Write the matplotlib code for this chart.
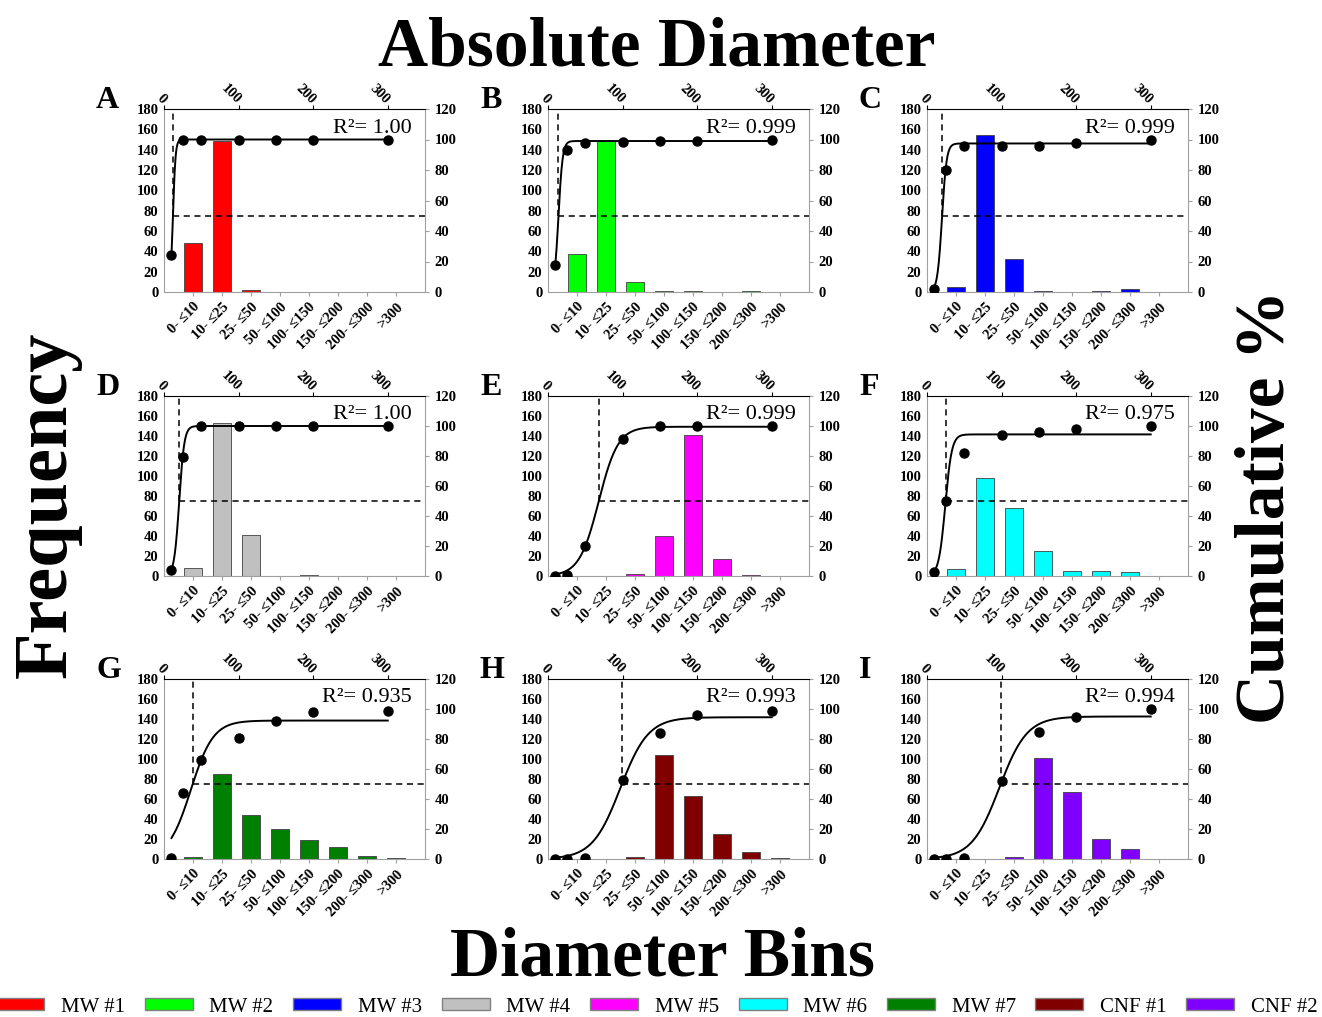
import matplotlib
matplotlib.use("Agg")
import matplotlib.pyplot as plt
from matplotlib.patches import Patch
import numpy as np

plt.rcParams["font.family"] = ["Liberation Serif", "DejaVu Serif"]

# bins shared by every panel
categories = ["0- ≤10", "10- ≤25", "25- ≤50", "50- ≤100", "100- ≤150", "150- ≤200", "200- ≤300", ">300"]
bin_upper = [10, 25, 50, 100, 150, 200, 300]  # x of the cumulative points

letters = ["A", "B", "C", "D", "E", "F", "G", "H", "I"]
names = ["MW #1", "MW #2", "MW #3", "MW #4", "MW #5", "MW #6", "MW #7", "CNF #1", "CNF #2"]
colors = ["#FF0000", "#00FF00", "#0000FF", "#C0C0C0", "#FF00FF", "#00FFFF", "#008000", "#800000", "#8000FF"]
r2_text = ["1.00", "0.999", "0.999", "1.00", "0.999", "0.975", "0.935", "0.993", "0.994"]

# frequency per bin
freq_a = [48, 149, 2, 0, 0, 0, 0, 0]
freq_b = [37, 149, 10, 1, 1, 0, 1, 0]
freq_c = [5, 154, 32, 1, 0, 1, 3, 0]
freq_d = [8, 153, 41, 0, 1, 0, 0, 0]
freq_e = [0, 0, 2, 40, 141, 17, 1, 0]
freq_f = [7, 98, 68, 25, 5, 5, 4, 0]
freq_g = [2, 85, 44, 30, 19, 12, 3, 1]
freq_h = [0, 0, 2, 104, 63, 25, 7, 1]
freq_i = [0, 0, 2, 101, 67, 20, 10, 0]
freqs = [freq_a, freq_b, freq_c, freq_d, freq_e, freq_f, freq_g, freq_h, freq_i]

# cumulative % at bin_upper
cum_a = [24, 100, 100, 100, 100, 100, 100]
cum_b = [18, 93, 98, 98.5, 99, 99, 100]
cum_c = [2, 80, 96, 96, 96, 98, 100]
cum_d = [4, 79, 100, 100, 100, 100, 100]
cum_e = [0, 0.5, 20, 91, 100, 100, 100]
cum_f = [3, 50, 82, 94, 96, 98, 100]
cum_g = [1, 44, 66, 81, 92, 98, 99]
cum_h = [0, 0, 1, 53, 84, 96, 99]
cum_i = [0, 0, 1, 52, 85, 95, 100]
cums = [cum_a, cum_b, cum_c, cum_d, cum_e, cum_f, cum_g, cum_h, cum_i]

# sigmoid fit parameters: plateau, midpoint, slope width
fit_top = [100, 99, 97.4, 100, 99.5, 94.4, 92.3, 94.5, 95]
fit_mid = [12, 14, 20.1, 20.4, 68, 24.5, 36, 97, 97]
fit_width = [1.75, 2.8, 3.1, 3.4, 13, 4.4, 15.1, 18.7, 18.5]

W, H = 1322, 1017
fig = plt.figure(figsize=(W / 100, H / 100), dpi=100)

col_left = [164, 548, 927]
col_w = 261
row_top = [109, 396, 679]
row_h = [183, 180, 180]

grey = "#A0A0A0"
tick_fs = 10.5

for i in range(9):
    r, c = divmod(i, 3)
    rect = [col_left[c] / W, 1 - (row_top[r] + row_h[r]) / H, col_w / W, row_h[r] / H]

    ax = fig.add_axes(rect)
    ax.bar(np.arange(1, 9), freqs[i], width=0.62, color=colors[i], edgecolor="#404040", linewidth=0.6)
    ax.set_xlim(0, 9)
    ax.set_ylim(0, 180)
    ax.set_yticks(range(0, 181, 20))
    ax.set_xticks(np.arange(1, 9))
    ax.set_xticklabels(categories, rotation=45, ha="right", rotation_mode="anchor",
                       fontsize=tick_fs, fontweight="bold")
    ax.tick_params(axis="x", length=3, color=grey, pad=3)
    ax.tick_params(axis="y", length=0, pad=4, labelsize=tick_fs)
    for lbl in ax.get_yticklabels():
        lbl.set_fontweight("bold")
    ax.spines["top"].set_visible(False)
    ax.spines["right"].set_visible(False)
    ax.spines["left"].set_color(grey)
    ax.spines["bottom"].set_color(grey)

    ax2 = fig.add_axes(rect, facecolor="none")
    ax2.xaxis.tick_top()
    ax2.yaxis.tick_right()
    ax2.set_xlim(0, 350)
    ax2.set_ylim(0, 120)
    ax2.set_xticks([0, 100, 200, 300])
    ax2.set_xticklabels(["0", "100", "200", "300"], rotation=-45, ha="right", va="center",
                        rotation_mode="anchor", fontsize=tick_fs, fontweight="bold")
    ax2.set_yticks(range(0, 121, 20))
    ax2.tick_params(axis="x", length=3, pad=2)
    ax2.tick_params(axis="y", length=3, color=grey, pad=4, labelsize=tick_fs)
    for lbl in ax2.get_yticklabels():
        lbl.set_fontweight("bold")
    ax2.spines["left"].set_visible(False)
    ax2.spines["bottom"].set_visible(False)
    ax2.spines["right"].set_color(grey)
    ax2.spines["top"].set_color("black")

    xs = np.linspace(bin_upper[0], bin_upper[-1], 400)
    ys = fit_top[i] / (1 + np.exp(-(xs - fit_mid[i]) / fit_width[i]))
    ax2.plot(xs, ys, color="black", lw=1.4, zorder=3)
    ax2.plot(bin_upper, cums[i], "o", color="black", ms=6.5, zorder=4)

    # D50 guide lines
    x50 = fit_mid[i] - fit_width[i] * np.log(fit_top[i] / 50 - 1)
    ax2.plot([x50, x50], [50, 120], color="black", lw=1.1, ls=(0, (4, 3)), zorder=2)
    ax2.plot([x50, 350], [50, 50], color="black", lw=1.1, ls=(0, (4, 3)), zorder=2)

    ax2.text(0.95, 0.895, "R²= " + r2_text[i], transform=ax2.transAxes,
             ha="right", va="center", fontsize=16)

    fig.text((col_left[c] - 68) / W, 1 - (row_top[r] - 1) / H, letters[i],
             fontsize=23, fontweight="bold", va="baseline", ha="left")

fig.text(657 / W, 1 - 66 / H, "Absolute Diameter", ha="center", va="baseline",
         fontsize=50, fontweight="bold")
fig.text(663 / W, 1 - 975 / H, "Diameter Bins", ha="center", va="baseline",
         fontsize=50, fontweight="bold")
fig.text(47 / W, 1 - 505 / H, "Frequency", rotation=90, ha="center", va="center",
         fontsize=55, fontweight="bold")
fig.text(1267 / W, 1 - 507 / H, "Cumulative %", rotation=90, ha="center", va="center",
         fontsize=50, fontweight="bold")

handles = [Patch(facecolor=col, edgecolor="#808080", linewidth=1) for col in colors]
fig.legend(handles, names, loc="center", bbox_to_anchor=(0.497, 1 - 1007 / H), ncol=9,
           frameon=False, fontsize=15, handlelength=2.3, handleheight=0.55,
           handletextpad=0.8, columnspacing=0.95, borderaxespad=0, borderpad=0)

fig.savefig("out.png", dpi=100)
